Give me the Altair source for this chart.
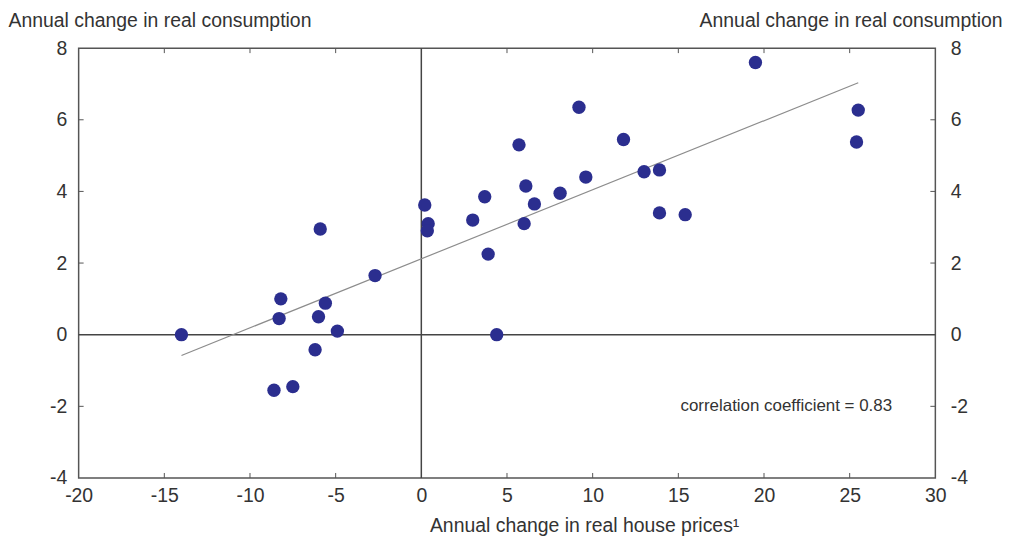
import altair as alt
import pandas as pd

# Data
house_prices = [-14.0, -8.6, -7.5, -8.2, -8.3, -6.2, -6.0, -5.9, -5.6, -4.9, -2.7,
                0.2, 0.4, 0.35, 3.0, 3.7, 3.9, 4.4, 5.7, 6.1, 6.0, 6.6, 8.1, 9.2,
                9.6, 11.8, 13.0, 13.9, 13.9, 15.4, 19.5, 25.5, 25.4]
consumption = [0.0, -1.55, -1.45, 1.0, 0.45, -0.42, 0.5, 2.95, 0.88, 0.1, 1.65,
               3.62, 3.1, 2.9, 3.2, 3.85, 2.25, 0.0, 5.3, 4.15, 3.1, 3.65, 3.95, 6.35,
               4.4, 5.45, 4.55, 4.6, 3.4, 3.35, 7.6, 6.27, 5.38]
x_ticks = [-15, -10, -5, 5, 10, 15, 20, 25]
y_ticks = [-2, 2, 4, 6]
note = "correlation coefficient = 0.83"
note_pos = [21.3, -2.0]

W, H = 861, 432
FONT = "Liberation Sans"
GREY = "#333333"
XDOM = [-20, 30]
YDOM = [-4, 8]

df = pd.DataFrame({"x": house_prices, "y": consumption})
xt = pd.DataFrame({"v": x_ticks})
yt = pd.DataFrame({"v": y_ticks})
zero = pd.DataFrame({"v": [0]})
notes = pd.DataFrame({"x": [note_pos[0]], "y": [note_pos[1]], "t": [note]})

xs = alt.Scale(domain=XDOM, nice=False, zero=False)
ys = alt.Scale(domain=YDOM, nice=False, zero=False)
neg = "datum.value < 0 ? '-' + abs(datum.value) : '' + datum.value"

points = alt.Chart(df).mark_circle(size=180, opacity=1, color="#2B2E8F").encode(
    x=alt.X("x:Q", scale=xs,
            axis=alt.Axis(values=list(range(-20, 31, 5)), labelExpr=neg,
                          title="Annual change in real house prices\u00b9",
                          titleX=508, titleY=54, titleAlign="center",
                          titleBaseline="alphabetic", labelPadding=9, tickSize=0,
                          labelFlush=False, domain=False, grid=False)),
    y=alt.Y("y:Q", scale=ys,
            axis=alt.Axis(values=list(range(-4, 9, 2)), labelExpr=neg, orient="left",
                          title="Annual change in real consumption", titleAngle=0,
                          titleAlign="left", titleBaseline="alphabetic",
                          titleX=-71, titleY=-22, labelPadding=12, tickSize=0,
                          labelFlush=False, domain=False, grid=False)),
)

reg = alt.Chart(df).transform_regression("x", "y").mark_line(
    color="#8c8c8c", strokeWidth=1.2).encode(
    x=alt.X("x:Q", scale=xs, axis=None),
    y=alt.Y("y:Q", scale=ys, axis=None),
)

hzero = alt.Chart(zero).mark_rule(color="#444444", strokeWidth=1.5).encode(
    y=alt.Y("v:Q", scale=ys,
            axis=alt.Axis(values=list(range(-4, 9, 2)), labelExpr=neg, orient="right",
                          title="Annual change in real consumption", titleAngle=0,
                          titleAlign="right", titleBaseline="alphabetic",
                          titleX=67, titleY=-22, labelPadding=15, tickSize=0,
                          labelFlush=False, domain=False, grid=False)),
)
vzero = alt.Chart(zero).mark_rule(color="#444444", strokeWidth=1.5).encode(
    x=alt.X("v:Q", scale=xs, axis=None),
)

tk = dict(color="#555555", strokeWidth=1)
t_bottom = alt.Chart(xt).mark_rule(**tk).encode(
    x=alt.X("v:Q", scale=xs, axis=None), y=alt.value(H), y2=alt.value(H - 5))
t_top = alt.Chart(xt).mark_rule(**tk).encode(
    x=alt.X("v:Q", scale=xs, axis=None), y=alt.value(0), y2=alt.value(5))
t_left = alt.Chart(yt).mark_rule(**tk).encode(
    y=alt.Y("v:Q", scale=ys, axis=None), x=alt.value(0), x2=alt.value(5))
t_right = alt.Chart(yt).mark_rule(**tk).encode(
    y=alt.Y("v:Q", scale=ys, axis=None), x=alt.value(W), x2=alt.value(W - 5))

text = alt.Chart(notes).mark_text(font=FONT, fontSize=17, color=GREY, align="center",
                                  baseline="middle").encode(
    x=alt.X("x:Q", scale=xs, axis=None),
    y=alt.Y("y:Q", scale=ys, axis=None),
    text="t:N",
)

chart = alt.layer(
    vzero, hzero, reg, points, text, t_bottom, t_top, t_left, t_right
).resolve_axis(y="independent", x="independent").properties(
    width=W, height=H,
    background="white",
    autosize=alt.AutoSizeParams(type="none"),
    padding={"left": 71, "top": 39, "right": 70, "bottom": 60},
).configure_view(
    stroke="#555555", strokeWidth=1.5
).configure_axis(
    labelFont=FONT, labelFontSize=19.5, labelColor=GREY,
    titleFont=FONT, titleFontSize=19.5, titleColor=GREY, titleFontWeight="normal",
)

chart.save("out.html", embed_options={"renderer": "svg", "actions": False})
